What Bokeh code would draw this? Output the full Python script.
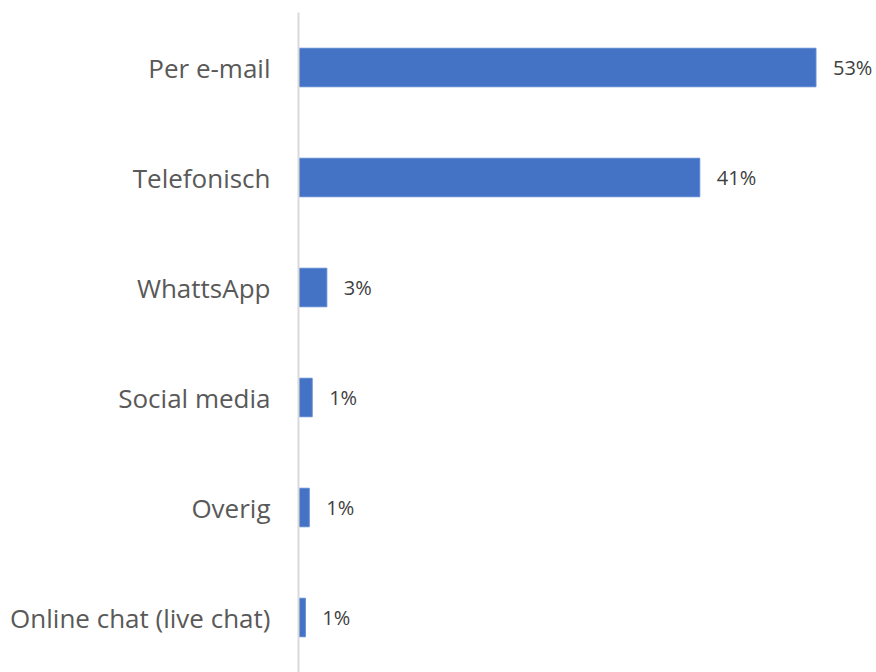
from bokeh.plotting import figure
from bokeh.models import ColumnDataSource, FactorRange, Range1d
from bokeh.core.properties import value
from bokeh.embed import file_html
from bokeh.resources import INLINE

categories = ["Per e-mail", "Telefonisch", "WhattsApp", "Social media", "Overig", "Online chat (live chat)"]
shares = [53.0, 41.1, 2.9, 1.4, 1.1, 0.7]
labels = [f"{round(v)}%" for v in shares]

FONT = "Open Sans"

src = ColumnDataSource(dict(cat=categories, val=shares, lab=labels))

p = figure(
    width=876, height=672,
    y_range=FactorRange(factors=list(reversed(categories))),
    x_range=Range1d(0, 59.2),
    output_backend="svg", toolbar_location=None,
    min_border_left=298, min_border_right=0, min_border_top=12, min_border_bottom=0,
)

p.hbar(y="cat", right="val", left=0, height=0.35, source=src,
       fill_color="#4472C4", line_color="#5B86D0", line_width=1)

p.text(x="val", y="cat", text="lab", source=src, x_offset=17,
       text_font=value(FONT), text_font_size="20px", text_color="#404040",
       text_baseline="middle", text_align="left")

p.xaxis.visible = False
p.xgrid.visible = False
p.ygrid.visible = False
p.outline_line_color = None

ya = p.yaxis[0]
ya.axis_line_color = "#D9D9D9"
ya.axis_line_width = 2
ya.major_tick_line_color = None
ya.minor_tick_line_color = None
ya.major_label_text_font = FONT
ya.major_label_text_font_size = "26px"
ya.major_label_text_color = "#595959"
ya.major_label_standoff = 22

open("out.html", "w").write(file_html(p, INLINE))
